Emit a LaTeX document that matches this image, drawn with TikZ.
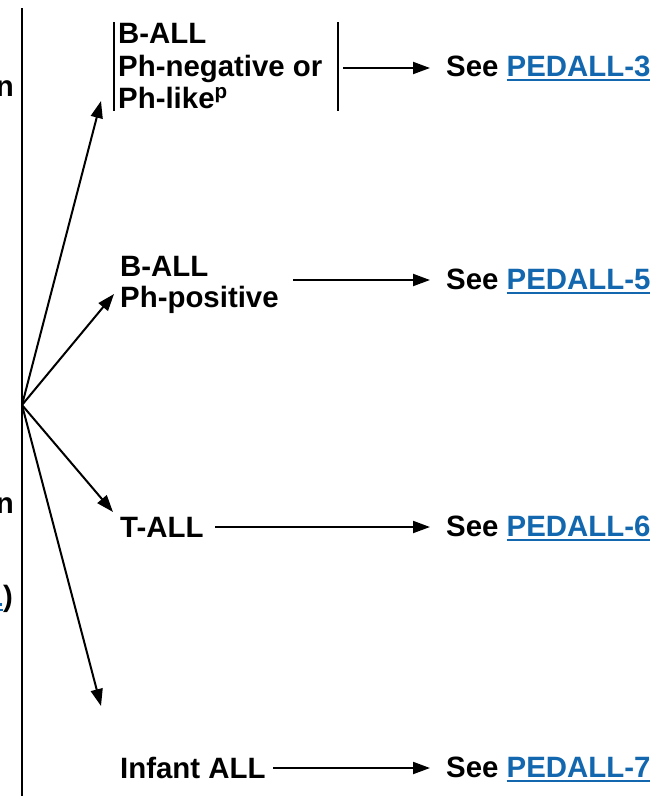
\documentclass[tikz,border=0pt]{standalone}
\usepackage{fontspec}
\setmainfont{Liberation Sans}
\usetikzlibrary{arrows.meta}
\definecolor{linkblue}{RGB}{18,103,174}
\newcommand{\lnk}[1]{\textcolor{linkblue}{\setbox0\hbox{#1}\rlap{\rule[-4.5pt]{\wd0}{1.6pt}}\box0}}
\tikzset{
  txt/.style={anchor=base west,inner sep=0pt,font=\fontsize{29.4}{32}\selectfont\bfseries},
  txte/.style={anchor=base east,inner sep=0pt,font=\fontsize{29.4}{32}\selectfont\bfseries},
  arr/.style={line width=2pt,-{Triangle[length=17pt,width=12pt]}},
  bar/.style={line width=2pt}
}
\begin{document}
\begin{tikzpicture}[x=1pt,y=-1pt]
\useasboundingbox (0,0) rectangle (654,796);
% main vertical line and partial text at left edge
\coordinate (vt) at (22,8);
\coordinate (vb) at (22,800);
\draw[line width=2.2pt] (vt) -- (vb);
\node[txte] (l1) at (14,96) {n};
\node[txte] (l2) at (14,513) {n};
\node[txte] (l3) at (13,606) {\lnk{1})};
% fan
\coordinate (o) at (22,405);
\coordinate (t1) at (101,101);
\coordinate (t2) at (114,294);
\coordinate (t3) at (113,512);
\coordinate (t4) at (101,706);
\draw[arr] (o) -- (t1);
\draw[arr] (o) -- (t2);
\draw[arr] (o) -- (t3);
\draw[arr] (o) -- (t4);
% top box
\coordinate (b1t) at (114,22);
\coordinate (b1b) at (114,111);
\coordinate (b2t) at (338,22);
\coordinate (b2b) at (338,111);
\draw[bar] (b1t) -- (b1b);
\draw[bar] (b2t) -- (b2b);
\node[txt] (a1) at (118,43) {B-ALL};
\node[txt] (a2) at (118,76) {Ph-negative or};
\node[txt] (a3) at (118,108) {Ph-like\textsuperscript{p}};
\coordinate (h1s) at (343,68);
\coordinate (h1e) at (430,68);
\draw[arr] (h1s) -- (h1e);
\node[txt] (s1) at (446,76) {See \lnk{PEDALL-3}};
% B-ALL Ph-positive
\node[txt] (c1) at (120,276) {B-ALL};
\node[txt] (c2) at (120,307) {Ph-positive};
\coordinate (h2s) at (293,280);
\coordinate (h2e) at (430,280);
\draw[arr] (h2s) -- (h2e);
\node[txt] (s2) at (446,289) {See \lnk{PEDALL-5}};
% T-ALL
\node[txt] (d1) at (120,537) {T-ALL};
\coordinate (h3s) at (215,527);
\coordinate (h3e) at (430,527);
\draw[arr] (h3s) -- (h3e);
\node[txt] (s3) at (446,536) {See \lnk{PEDALL-6}};
% Infant ALL
\node[txt] (e1) at (120,778) {Infant ALL};
\coordinate (h4s) at (273,768);
\coordinate (h4e) at (430,768);
\draw[arr] (h4s) -- (h4e);
\node[txt] (s4) at (446,777) {See \lnk{PEDALL-7}};
\end{tikzpicture}
\end{document}
